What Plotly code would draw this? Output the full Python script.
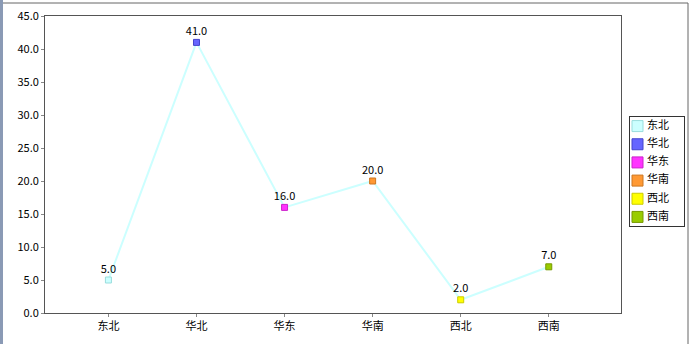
import plotly.graph_objects as go

categories = ["东北", "华北", "华东", "华南", "西北", "西南"]
values = [5.0, 41.0, 16.0, 20.0, 2.0, 7.0]
colors = ["#ccffff", "#6666ff", "#ff33ff", "#ff9933", "#ffff00", "#99cc00"]
edge_colors = ["#99dddd", "#4444cc", "#cc22cc", "#cc7722", "#cccc00", "#779900"]
y_ticks = [0, 5, 10, 15, 20, 25, 30, 35, 40, 45]

font_family = "Noto Sans CJK SC, DejaVu Sans, sans-serif"

W, H = 692, 344
ML, MR, MT, MB = 45, 2, 16, 31
PW = W - ML - MR          # paper width in px
PH = H - MT - MB          # paper height in px
def px(xpix):
    return (xpix - ML) / PW
def py(ypix):
    return (H - MB - ypix) / PH

fig = go.Figure()
fig.add_trace(go.Scatter(
    x=categories, y=values, mode="lines",
    line=dict(color="#ccffff", width=2),
    showlegend=False, hoverinfo="skip",
))
fig.add_trace(go.Scatter(
    x=categories, y=values, mode="markers+text",
    marker=dict(symbol="square", size=6, color=colors, line=dict(color=edge_colors, width=1)),
    text=[f"{v:.1f}" for v in values], textposition="top center",
    textfont=dict(size=11, color="#000000", family=font_family),
    showlegend=False,
))

# legend drawn on its own small axis
idx = list(range(len(categories)))
fig.add_trace(go.Scatter(
    x=[7.5] * len(categories), y=idx, mode="markers",
    marker=dict(symbol="square", size=11, color=colors, line=dict(color=edge_colors, width=1)),
    xaxis="x2", yaxis="y2", showlegend=False, hoverinfo="skip",
))
fig.add_trace(go.Scatter(
    x=[17] * len(categories), y=idx, mode="text",
    text=categories, textposition="middle right",
    textfont=dict(size=11, color="#000000", family=font_family),
    xaxis="x2", yaxis="y2", showlegend=False, hoverinfo="skip",
))

fig.update_layout(
    width=W, height=H,
    margin=dict(l=ML, r=MR, t=MT, b=MB),
    paper_bgcolor="white", plot_bgcolor="white",
    font=dict(family=font_family, size=11, color="#000000"),
    showlegend=False,
    xaxis=dict(
        domain=[0, px(621)],
        type="category", range=[-0.72, 5.82],
        showline=True, linecolor="#555555", linewidth=1, mirror=True,
        ticks="outside", ticklen=3, tickcolor="#888888",
        showgrid=False, zeroline=False, fixedrange=True,
    ),
    yaxis=dict(
        range=[0, 45], tickvals=y_ticks,
        ticktext=[f"{t:.1f}" for t in y_ticks],
        showline=True, linecolor="#555555", linewidth=1, mirror=True,
        ticks="outside", ticklen=3, tickcolor="#888888",
        showgrid=False, zeroline=False, fixedrange=True,
    ),
    xaxis2=dict(
        domain=[px(630), px(684)], range=[0, 54], anchor="y2",
        showline=True, linecolor="#333333", linewidth=1, mirror=True,
        showticklabels=False, ticks="", showgrid=False, zeroline=False, fixedrange=True,
    ),
    yaxis2=dict(
        domain=[py(226), py(117)], range=[5.5, -0.5], anchor="x2",
        showline=True, linecolor="#333333", linewidth=1, mirror=True,
        showticklabels=False, ticks="", showgrid=False, zeroline=False, fixedrange=True,
    ),
    shapes=[
        dict(type="rect", xref="paper", yref="paper",
             x0=px(0), x1=px(3), y0=py(H), y1=py(0),
             fillcolor="#8a9ab5", line=dict(width=0), layer="above"),
        dict(type="line", xref="paper", yref="paper",
             x0=px(3), x1=px(688), y0=py(3), y1=py(3),
             line=dict(color="#666666", width=1)),
        dict(type="line", xref="paper", yref="paper",
             x0=px(688), x1=px(688), y0=py(H), y1=py(3),
             line=dict(color="#666666", width=1)),
    ],
)

fig.write_html("out.html")
